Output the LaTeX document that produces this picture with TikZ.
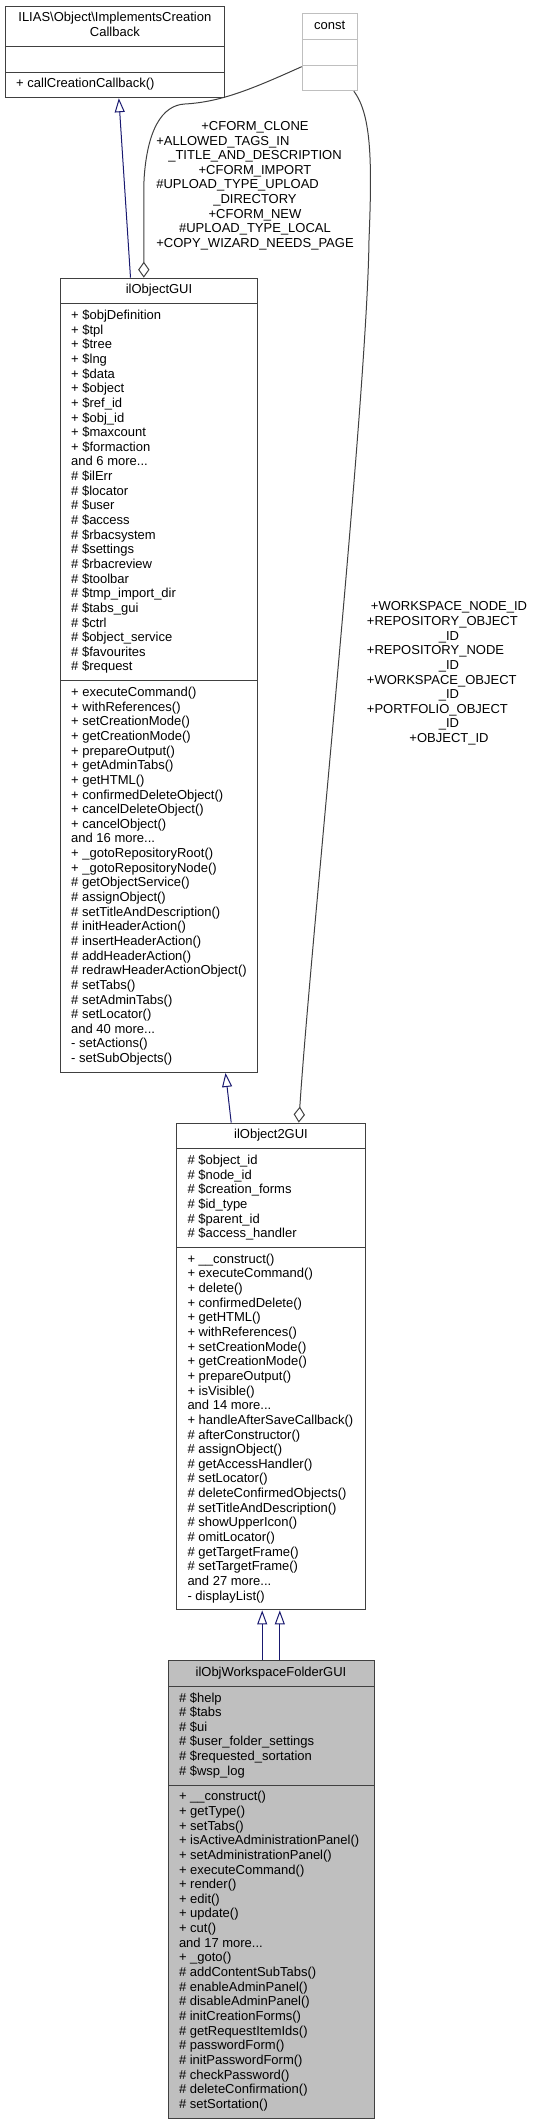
\documentclass[tikz,border=0pt]{standalone}
\usepackage{fontspec}
\setmainfont{Liberation Sans}
\usepackage{tikz}
\usetikzlibrary{positioning, shapes.multipart, arrows.meta}
\usepackage{xcolor}

\definecolor{edgeblue}{HTML}{191970}
\definecolor{boxline}{HTML}{404040}
\definecolor{lightline}{HTML}{BFBFBF}
\definecolor{focusfill}{HTML}{BFBFBF}

\newcommand{\umlfont}{\fontsize{13}{14.64}\selectfont}
\newcommand{\clsname}[1]{\begin{tabular}{@{}c@{}}#1\end{tabular}}
\newcommand{\clsrows}[1]{\begin{tabular}{@{}l@{}}#1\end{tabular}}
\newcommand{\leftrow}[1]{\multicolumn{1}{@{}l@{}}{#1}}
\newcommand{\leftrowx}[1]{\multicolumn{1}{@{\hspace{-4pt}}l@{}}{#1}}

\begin{document}
\begin{tikzpicture}[
        x=1pt, y=-1pt,
        font=\umlfont,
        classbox/.style={rectangle split, rectangle split parts=3,
            rectangle split part align={center,left,left},
            draw=boxline, fill=white, line width=1pt,
            inner xsep=11pt, inner ysep=5pt}, % one box per class
        constbox/.style={classbox, draw=lightline},
        inherit/.style={draw=edgeblue, line width=1pt, -{Triangle[open, length=14pt, width=10pt]}},
        aggr/.style={draw=boxline, line width=1pt, -{Diamond[open, length=16pt, width=11.3pt]}},
        elabel/.style={inner sep=0pt, align=center} % labels of the const edges
      ]
        \useasboundingbox (0,0) rectangle (537,2124);

        % Top row: interface and the const holder
        \node[classbox, minimum width=219.3pt, anchor=north west] (impl) at (4.7,5.7)
            {\clsname{ILIAS\textbackslash Object\textbackslash ImplementsCreation\\Callback}
             \nodepart{two}\clsrows{\strut}
             \nodepart{three}\clsrows{+ callCreationCallback()}};
        \node[constbox, minimum width=55pt, anchor=north west] (const) at (301.7,13.3)
            {\clsname{const}
             \nodepart{two}\clsrows{\strut}
             \nodepart{three}\clsrows{\strut}};

        % Class chain, going downwards
        \node[classbox, minimum width=197.6pt, anchor=north west] (objgui) at (59.7,277.7)
            {\clsname{ilObjectGUI}
             \nodepart{two}\clsrows{+ \$objDefinition\\+ \$tpl\\+ \$tree\\+ \$lng\\+ \$data\\
                + \$object\\+ \$ref\_id\\+ \$obj\_id\\+ \$maxcount\\+ \$formaction\\and 6 more...\\
                \# \$ilErr\\\# \$locator\\\# \$user\\\# \$access\\\# \$rbacsystem\\\# \$settings\\
                \# \$rbacreview\\\# \$toolbar\\\# \$tmp\_import\_dir\\\# \$tabs\_gui\\\# \$ctrl\\
                \# \$object\_service\\\# \$favourites\\\# \$request}
             \nodepart{three}\clsrows{+ executeCommand()\\+ withReferences()\\+ setCreationMode()\\
                + getCreationMode()\\+ prepareOutput()\\+ getAdminTabs()\\+ getHTML()\\
                + confirmedDeleteObject()\\+ cancelDeleteObject()\\+ cancelObject()\\and 16 more...\\
                + \_gotoRepositoryRoot()\\+ \_gotoRepositoryNode()\\\# getObjectService()\\
                \# assignObject()\\\# setTitleAndDescription()\\\# initHeaderAction()\\
                \# insertHeaderAction()\\\# addHeaderAction()\\\# redrawHeaderActionObject()\\
                \# setTabs()\\\# setAdminTabs()\\\# setLocator()\\and 40 more...\\
                - setActions()\\- setSubObjects()}};

        \node[classbox, minimum width=189pt, below=49.6pt of objgui, xshift=112pt] (obj2gui)
            {\clsname{ilObject2GUI}
             \nodepart{two}\clsrows{\# \$object\_id\\\# \$node\_id\\\# \$creation\_forms\\
                \# \$id\_type\\\# \$parent\_id\\\# \$access\_handler}
             \nodepart{three}\clsrows{+ \_\_construct()\\+ executeCommand()\\+ delete()\\
                + confirmedDelete()\\+ getHTML()\\+ withReferences()\\+ setCreationMode()\\
                + getCreationMode()\\+ prepareOutput()\\+ isVisible()\\and 14 more...\\
                + handleAfterSaveCallback()\\\# afterConstructor()\\\# assignObject()\\
                \# getAccessHandler()\\\# setLocator()\\\# deleteConfirmedObjects()\\
                \# setTitleAndDescription()\\\# showUpperIcon()\\\# omitLocator()\\
                \# getTargetFrame()\\\# setTargetFrame()\\and 27 more...\\- displayList()}};

        \node[classbox, fill=focusfill, minimum width=206pt, below=49.7pt of obj2gui] (wsfolder)
            {\clsname{ilObjWorkspaceFolderGUI}
             \nodepart{two}\clsrows{\# \$help\\\# \$tabs\\\# \$ui\\\# \$user\_folder\_settings\\
                \# \$requested\_sortation\\\# \$wsp\_log}
             \nodepart{three}\clsrows{+ \_\_construct()\\+ getType()\\+ setTabs()\\
                + isActiveAdministrationPanel()\\+ setAdministrationPanel()\\+ executeCommand()\\
                + render()\\+ edit()\\+ update()\\+ cut()\\and 17 more...\\+ \_goto()\\
                \# addContentSubTabs()\\\# enableAdminPanel()\\\# disableAdminPanel()\\
                \# initCreationForms()\\\# getRequestItemIds()\\\# passwordForm()\\
                \# initPasswordForm()\\\# checkPassword()\\\# deleteConfirmation()\\
                \# setSortation()}};

        % Inheritance
        \path
        ([xshift=-28.5pt]objgui.north) edge[inherit] ([xshift=4pt]impl.south)
        ([xshift=-39.8pt]obj2gui.north) edge[inherit] ([xshift=66.5pt]objgui.south)
        ([xshift=-8.8pt]wsfolder.north) edge[inherit] ([xshift=-8.8pt]obj2gui.south)
        ([xshift=8.8pt]wsfolder.north) edge[inherit] ([xshift=8.8pt]obj2gui.south);

        % Usage of const
        \draw[aggr] ([yshift=-14.4pt]const.west) .. controls (250,90) and (220,102) .. (185,104)
            .. controls (162,105) and (147,130) .. (144,180) -- ([xshift=-15.2pt]objgui.north);
        \draw[aggr] ([xshift=24.1pt]const.south) .. controls (372,115) and (372,165) .. (369,240)
            .. controls (367,400) and (310,950) .. ([xshift=27.8pt]obj2gui.north);

        \node[elabel] (lblgui) at (255,186) {\begin{tabular}{@{}c@{}}
            +CFORM\_CLONE\\
            \leftrow{+ALLOWED\_TAGS\_IN}\\
            \_TITLE\_AND\_DESCRIPTION\\
            +CFORM\_IMPORT\\
            \leftrow{\#UPLOAD\_TYPE\_UPLOAD}\\
            \_DIRECTORY\\
            +CFORM\_NEW\\
            \#UPLOAD\_TYPE\_LOCAL\\
            +COPY\_WIZARD\_NEEDS\_PAGE
            \end{tabular}};
        \node[elabel] (lblgui2) at (449,673.8) {\begin{tabular}{@{}c@{}}
            +WORKSPACE\_NODE\_ID\\
            \leftrowx{+REPOSITORY\_OBJECT}\\
            \_ID\\
            \leftrowx{+REPOSITORY\_NODE}\\
            \_ID\\
            \leftrowx{+WORKSPACE\_OBJECT}\\
            \_ID\\
            \leftrowx{+PORTFOLIO\_OBJECT}\\
            \_ID\\
            +OBJECT\_ID
            \end{tabular}};
    \end{tikzpicture}
\end{document}
